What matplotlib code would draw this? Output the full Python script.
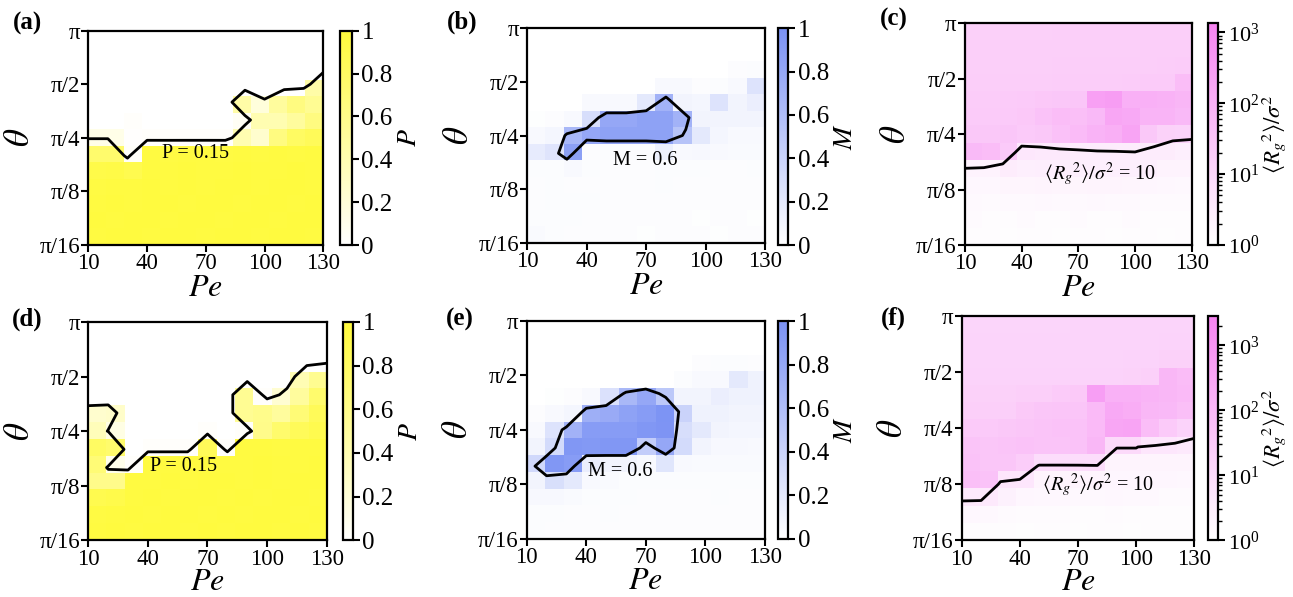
import numpy as np
import matplotlib
matplotlib.use('Agg')
import matplotlib.pyplot as plt
from matplotlib.colors import LinearSegmentedColormap, LogNorm, Normalize

plt.rcParams['font.family'] = 'serif'
plt.rcParams['font.serif'] = ['Liberation Serif', 'DejaVu Serif']
plt.rcParams['mathtext.fontset'] = 'stix'

W, H = 1293, 597

# grid: Pe along x, theta index along y (theta = pi * 2**((k-12)/3))
pe = [10, 20, 30, 40, 50, 60, 70, 80, 90, 100, 110, 120, 130]
theta_idx = [0, 1, 2, 3, 4, 5, 6, 7, 8, 9, 10, 11, 12]
pe_ticks = [10, 40, 70, 100, 130]
theta_ticks = [0, 3, 6, 9, 12]
theta_labels = ['π/16', 'π/8', 'π/4', 'π/2', 'π']

# rows: theta index 0 (bottom) ... 12 (top)
P_top = [
    [0.97, 0.98, 0.98, 0.97, 0.98, 0.98, 0.97, 0.98, 0.98, 0.97, 0.98, 0.98, 0.97],
    [0.98, 0.97, 0.98, 0.98, 0.97, 0.98, 0.98, 0.97, 0.98, 0.98, 0.97, 0.98, 0.98],
    [0.97, 0.98, 0.97, 0.98, 0.98, 0.97, 0.98, 0.98, 0.97, 0.98, 0.98, 0.97, 0.98],
    [0.96, 0.97, 0.97, 0.98, 0.97, 0.98, 0.97, 0.98, 0.98, 0.97, 0.98, 0.98, 0.97],
    [0.93, 0.94, 0.90, 0.97, 0.97, 0.98, 0.97, 0.97, 0.98, 0.97, 0.97, 0.98, 0.97],
    [0.75, 0.75, 0.03, 0.97, 0.96, 0.97, 0.97, 0.96, 0.97, 0.96, 0.97, 0.96, 0.97],
    [0.12, 0.12, 0.01, 0.02, 0.02, 0.02, 0.02, 0.02, 0.40, 0.25, 0.65, 0.80, 0.85],
    [0.00, 0.00, 0.02, 0.00, 0.00, 0.00, 0.00, 0.00, 0.05, 0.40, 0.40, 0.50, 0.65],
    [0.00, 0.00, 0.00, 0.00, 0.00, 0.00, 0.00, 0.00, 0.45, 0.18, 0.50, 0.65, 0.55],
    [0.00, 0.00, 0.00, 0.00, 0.00, 0.00, 0.00, 0.00, 0.00, 0.00, 0.00, 0.00, 0.45],
    [0.00, 0.00, 0.00, 0.00, 0.00, 0.00, 0.00, 0.00, 0.00, 0.00, 0.00, 0.00, 0.00],
    [0.00, 0.00, 0.00, 0.00, 0.00, 0.00, 0.00, 0.00, 0.00, 0.00, 0.00, 0.00, 0.00],
    [0.00, 0.00, 0.00, 0.00, 0.00, 0.00, 0.00, 0.00, 0.00, 0.00, 0.00, 0.00, 0.00],
]

P_bot = [
    [0.97, 0.98, 0.97, 0.98, 0.98, 0.97, 0.98, 0.97, 0.98, 0.98, 0.97, 0.98, 0.97],
    [0.96, 0.97, 0.98, 0.97, 0.98, 0.98, 0.97, 0.98, 0.97, 0.98, 0.98, 0.97, 0.98],
    [0.90, 0.92, 0.97, 0.98, 0.97, 0.98, 0.98, 0.97, 0.98, 0.97, 0.98, 0.98, 0.97],
    [0.60, 0.60, 0.97, 0.97, 0.98, 0.97, 0.98, 0.98, 0.97, 0.98, 0.97, 0.98, 0.98],
    [0.70, 0.10, 0.02, 0.97, 0.97, 0.97, 0.97, 0.97, 0.97, 0.98, 0.97, 0.97, 0.98],
    [0.80, 0.75, 0.00, 0.02, 0.02, 0.02, 0.85, 0.02, 0.97, 0.97, 0.96, 0.97, 0.97],
    [0.35, 0.14, 0.00, 0.00, 0.00, 0.00, 0.02, 0.00, 0.02, 0.60, 0.75, 0.85, 0.90],
    [0.25, 0.27, 0.00, 0.00, 0.00, 0.00, 0.00, 0.00, 0.55, 0.59, 0.50, 0.70, 0.85],
    [0.00, 0.00, 0.00, 0.00, 0.00, 0.00, 0.00, 0.00, 0.55, 0.02, 0.23, 0.50, 0.75],
    [0.00, 0.00, 0.00, 0.00, 0.00, 0.00, 0.00, 0.00, 0.00, 0.00, 0.00, 0.38, 0.56],
    [0.00, 0.00, 0.00, 0.00, 0.00, 0.00, 0.00, 0.00, 0.00, 0.00, 0.00, 0.00, 0.00],
    [0.00, 0.00, 0.00, 0.00, 0.00, 0.00, 0.00, 0.00, 0.00, 0.00, 0.00, 0.00, 0.00],
    [0.00, 0.00, 0.00, 0.00, 0.00, 0.00, 0.00, 0.00, 0.00, 0.00, 0.00, 0.00, 0.00],
]

M_top = [
    [0.04, 0.03, 0.02, 0.02, 0.02, 0.02, 0.01, 0.02, 0.02, 0.02, 0.01, 0.02, 0.02],
    [0.03, 0.03, 0.03, 0.02, 0.02, 0.02, 0.02, 0.02, 0.02, 0.01, 0.02, 0.02, 0.01],
    [0.02, 0.03, 0.03, 0.03, 0.02, 0.02, 0.02, 0.02, 0.02, 0.02, 0.02, 0.02, 0.02],
    [0.02, 0.03, 0.02, 0.02, 0.02, 0.02, 0.02, 0.03, 0.02, 0.02, 0.02, 0.02, 0.02],
    [0.03, 0.03, 0.05, 0.03, 0.02, 0.02, 0.02, 0.03, 0.03, 0.03, 0.02, 0.02, 0.03],
    [0.18, 0.24, 0.87, 0.02, 0.03, 0.03, 0.03, 0.14, 0.05, 0.06, 0.05, 0.04, 0.04],
    [0.05, 0.08, 0.66, 0.80, 0.85, 0.85, 0.85, 0.85, 0.55, 0.20, 0.08, 0.05, 0.05],
    [0.01, 0.02, 0.05, 0.30, 0.80, 0.80, 0.85, 0.85, 0.70, 0.10, 0.10, 0.10, 0.10],
    [0.00, 0.00, 0.00, 0.05, 0.05, 0.05, 0.20, 0.70, 0.10, 0.08, 0.25, 0.10, 0.15],
    [0.00, 0.00, 0.00, 0.00, 0.00, 0.00, 0.00, 0.05, 0.05, 0.02, 0.03, 0.05, 0.25],
    [0.00, 0.00, 0.00, 0.00, 0.00, 0.00, 0.00, 0.00, 0.00, 0.00, 0.00, 0.02, 0.03],
    [0.00, 0.00, 0.00, 0.00, 0.00, 0.00, 0.00, 0.00, 0.00, 0.00, 0.00, 0.00, 0.00],
    [0.00, 0.00, 0.00, 0.00, 0.00, 0.00, 0.00, 0.00, 0.00, 0.00, 0.00, 0.00, 0.00],
]

M_bot = [
    [0.03, 0.02, 0.02, 0.02, 0.02, 0.02, 0.02, 0.02, 0.02, 0.02, 0.02, 0.02, 0.02],
    [0.03, 0.03, 0.02, 0.02, 0.03, 0.02, 0.02, 0.02, 0.02, 0.02, 0.02, 0.02, 0.02],
    [0.06, 0.06, 0.04, 0.03, 0.03, 0.03, 0.02, 0.02, 0.02, 0.02, 0.03, 0.02, 0.02],
    [0.10, 0.29, 0.20, 0.05, 0.04, 0.03, 0.03, 0.03, 0.03, 0.03, 0.03, 0.03, 0.03],
    [0.35, 0.95, 0.90, 0.15, 0.10, 0.10, 0.05, 0.23, 0.05, 0.04, 0.04, 0.04, 0.04],
    [0.10, 0.33, 0.95, 0.93, 0.95, 0.95, 0.45, 0.80, 0.33, 0.10, 0.06, 0.06, 0.05],
    [0.05, 0.25, 0.70, 0.90, 0.90, 0.90, 0.95, 0.97, 0.30, 0.20, 0.10, 0.08, 0.08],
    [0.02, 0.05, 0.08, 0.73, 0.77, 0.85, 0.90, 0.98, 0.40, 0.12, 0.12, 0.10, 0.10],
    [0.00, 0.01, 0.02, 0.05, 0.27, 0.65, 0.80, 0.50, 0.10, 0.10, 0.15, 0.12, 0.12],
    [0.00, 0.00, 0.00, 0.00, 0.00, 0.00, 0.00, 0.00, 0.03, 0.05, 0.05, 0.20, 0.12],
    [0.00, 0.00, 0.00, 0.00, 0.00, 0.00, 0.00, 0.00, 0.00, 0.02, 0.03, 0.03, 0.02],
    [0.00, 0.00, 0.00, 0.00, 0.00, 0.00, 0.00, 0.00, 0.00, 0.00, 0.00, 0.00, 0.00],
    [0.00, 0.00, 0.00, 0.00, 0.00, 0.00, 0.00, 0.00, 0.00, 0.00, 0.00, 0.00, 0.00],
]

Rg_top = [
    [1.2, 1.2, 1.1, 1.2, 1.2, 1.1, 1.2, 1.2, 1.1, 1.2, 1.2, 1.1, 1.2],
    [1.3, 1.2, 1.2, 1.3, 1.2, 1.2, 1.3, 1.2, 1.2, 1.3, 1.2, 1.2, 1.2],
    [1.4, 1.3, 1.4, 1.4, 1.5, 1.4, 1.4, 1.5, 1.4, 1.4, 1.3, 1.3, 1.3],
    [1.6, 1.6, 1.8, 1.8, 1.9, 1.8, 1.8, 1.9, 1.9, 1.8, 1.7, 1.6, 1.5],
    [2.0, 2.0, 3.0, 2.6, 2.7, 2.7, 2.6, 2.6, 2.6, 2.6, 2.5, 2.0, 2.0],
    [55, 45, 21, 4.0, 3.5, 3.5, 3.0, 3.0, 3.0, 3.0, 3.0, 3.0, 2.5],
    [25, 25, 28, 21, 25, 36, 50, 81, 103, 200, 25, 14, 13],
    [20, 20, 22, 24, 35, 45, 40, 60, 180, 150, 80, 80, 60],
    [19, 19, 20, 21, 24, 26, 28, 250, 300, 100, 100, 90, 70],
    [17, 17, 17, 17, 17, 18, 18, 18, 18, 19, 20, 20, 45],
    [16, 16, 16, 16, 16, 17, 17, 17, 17, 17, 17, 18, 19],
    [16, 16, 16, 16, 16, 16, 16, 16, 16, 16, 17, 17, 17],
    [15, 15, 15, 15, 15, 16, 16, 16, 16, 16, 16, 16, 16],
]

Rg_bot = [
    [1.2, 1.2, 1.2, 1.1, 1.2, 1.2, 1.1, 1.2, 1.2, 1.1, 1.2, 1.2, 1.2],
    [1.6, 1.5, 1.4, 1.3, 1.3, 1.3, 1.2, 1.2, 1.3, 1.2, 1.2, 1.2, 1.2],
    [4.0, 4.0, 2.5, 1.8, 1.6, 1.6, 1.5, 1.5, 1.6, 1.5, 1.5, 1.4, 1.4],
    [60, 50, 5.0, 5.0, 2.0, 2.0, 2.0, 2.0, 1.8, 1.8, 1.8, 1.7, 1.6],
    [50, 40, 40, 24, 9.0, 9.0, 9.0, 9.0, 2.0, 2.0, 2.0, 2.0, 2.0],
    [45, 40, 45, 50, 45, 45, 50, 100, 10.5, 10.5, 5.0, 5.0, 4.0],
    [30, 30, 35, 40, 45, 50, 50, 80, 300, 350, 67, 30, 17],
    [22, 22, 22, 32, 38, 42, 42, 80, 250, 200, 100, 90, 60],
    [19, 19, 19, 21, 22, 27, 32, 500, 150, 150, 120, 100, 80],
    [17, 17, 17, 17, 17, 17, 17, 17, 17, 18, 20, 100, 70],
    [16, 16, 16, 16, 16, 16, 16, 16, 16, 17, 17, 19, 19],
    [16, 16, 16, 16, 16, 16, 16, 16, 16, 16, 16, 17, 17],
    [15, 15, 15, 15, 15, 15, 16, 16, 16, 16, 16, 16, 16],
]

yellow = LinearSegmentedColormap.from_list('yel', ['#ffffff', '#fffa3c'])
blue = LinearSegmentedColormap.from_list('blu', ['#ffffff', '#7b92f4'])
pink = LinearSegmentedColormap.from_list('pnk', ['#ffffff', '#f684f1'])

rg_label = r'$\langle R_g{}^{2}\rangle/\sigma^2$'


def box(x0, y0, x1, y1):
    # pixel box (top-left origin) -> figure fraction
    return [x0 / W, 1 - y1 / H, (x1 - x0) / W, (y1 - y0) / H]


panels = [
    dict(letter='(a)', lpos=(27, 23), data=P_top, cmap=yellow, norm=Normalize(0, 1),
         level=0.15, text='P = 0.15', tpos=(64.5, 5.1), cblabel=r'$P$',
         ax=(88.3, 30.7, 323.3, 245), cax=(340, 30.7, 351.7, 245), xpad=0),
    dict(letter='(b)', lpos=(462, 22), data=M_top, cmap=blue, norm=Normalize(0, 1),
         level=0.6, text='M = 0.6', tpos=(69.4, 4.6), cblabel=r'$M$',
         ax=(527.3, 28.3, 765, 242.7), cax=(778.3, 28.3, 788.3, 245), xpad=0),
    dict(letter='(c)', lpos=(894, 19), data=Rg_top, cmap=pink, norm=LogNorm(1, 1340),
         level=10, text=rg_label + ' = 10', tpos=(81.5, 3.84), cblabel=rg_label,
         ax=(965, 23.3, 1191.7, 245), cax=(1208.3, 23.3, 1218.3, 245), xpad=0),
    dict(letter='(d)', lpos=(27, 319.5), data=P_bot, cmap=yellow, norm=Normalize(0, 1),
         level=0.15, text='P = 0.15', tpos=(57.8, 4.03), cblabel=r'$P$',
         ax=(88.3, 322, 326.7, 540.3), cax=(343.3, 322, 352.7, 540.3), xpad=-1),
    dict(letter='(e)', lpos=(460, 319.5), data=M_bot, cmap=blue, norm=Normalize(0, 1),
         level=0.6, text='M = 0.6', tpos=(57.3, 3.68), cblabel=r'$M$',
         ax=(526.7, 321, 765, 538.7), cax=(778.3, 321, 788.3, 538.7), xpad=-1),
    dict(letter='(f)', lpos=(893, 318.7), data=Rg_bot, cmap=pink, norm=LogNorm(1, 2800),
         level=10, text=rg_label + ' = 10', tpos=(80.5, 2.95), cblabel=rg_label,
         ax=(961.7, 316.3, 1194.3, 540.3), cax=(1208.3, 316.3, 1218.3, 540.3), xpad=-1),
]

fig = plt.figure(figsize=(W / 100, H / 100), dpi=100)

for p in panels:
    ax = fig.add_axes(box(*p['ax']))
    cax = fig.add_axes(box(*p['cax']))
    z = np.array(p['data'], dtype=float)

    im = ax.imshow(z, origin='lower', extent=[10, 130, 0, 12], aspect='auto',
                   cmap=p['cmap'], norm=p['norm'], interpolation='nearest')
    ax.contour(pe, theta_idx, z, levels=[p['level']], colors='k', linewidths=2)
    ax.text(p['tpos'][0], p['tpos'][1], p['text'], ha='center', va='center', fontsize=14.5)

    ax.set_xlim(10, 130)
    ax.set_ylim(0, 12)
    ax.set_xticks(pe_ticks)
    ax.set_yticks(theta_ticks)
    ax.set_yticklabels(theta_labels)
    ax.tick_params(direction='out', length=5, width=1.5, labelsize=16.5, pad=1)
    ax.set_xlabel(r'$Pe$', fontsize=23, labelpad=p['xpad'])
    ax.set_ylabel(r'$\theta$', fontsize=25, labelpad=2)
    for s in ax.spines.values():
        s.set_linewidth(1.6)

    cb = fig.colorbar(im, cax=cax)
    if isinstance(p['norm'], LogNorm):
        cb.set_ticks([1, 10, 100, 1000])
        cax.tick_params(labelsize=16)
        cb.set_label(p['cblabel'], fontsize=16.5, labelpad=0)
    else:
        cb.set_ticks([0, 0.2, 0.4, 0.6, 0.8, 1.0])
        cb.set_ticklabels(['0', '0.2', '0.4', '0.6', '0.8', '1'])
        cax.tick_params(labelsize=18)
        cb.set_label(p['cblabel'], fontsize=20, labelpad=3)
    cb.outline.set_linewidth(1.6)
    cax.tick_params(direction='out', length=5, width=1.5, pad=2)
    cax.tick_params(which='minor', length=3, width=1)

    fig.text(p['lpos'][0] / W, 1 - p['lpos'][1] / H, p['letter'], fontsize=18,
             fontweight='bold', ha='center', va='center')

fig.savefig('out.png', dpi=100)
